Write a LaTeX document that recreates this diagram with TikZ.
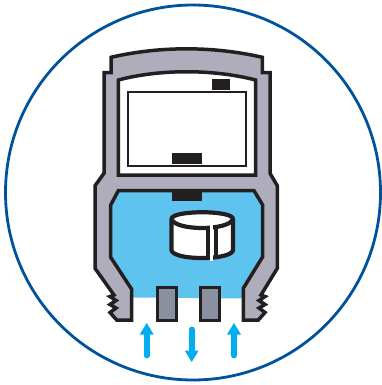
\documentclass[tikz,border=0pt]{standalone}
\definecolor{ringblue}{HTML}{00539B}
\definecolor{bodygray}{HTML}{ADADBB}
\definecolor{pingray}{HTML}{8A90A0}
\definecolor{chamber}{HTML}{5FC3F0}
\definecolor{flowblue}{HTML}{00AEEF}
\definecolor{ink}{HTML}{231F20}
\tikzset{
  blk/.style={draw=ink,line width=3.5pt,line join=miter},
  thinblk/.style={draw=ink,line width=1.9pt},
  bar/.style={fill=ink},
  pin/.style={draw=ink,fill=pingray,line width=3pt},
  cyl/.style={draw=ink,line width=4.2pt}
}
\newcommand{\arrowup}[1]{%
  \draw[flowblue,line width=5.8pt,line cap=round] (#1,355.5) -- (#1,333);
  \fill[flowblue] (#1-7,334.5) -- (#1,323) -- (#1+7,334.5) -- cycle;}
\begin{document}
\begin{tikzpicture}[x=1pt,y=-1pt]
\useasboundingbox (0,0) rectangle (382,385);
\draw[ringblue,line width=2.8pt] (193,192.5) circle (187.5);
% chamber
\fill[chamber] (118.3,190.7) -- (254,190.7) -- (262.7,205) -- (262.7,256.7) -- (243.3,288.3) -- (243.3,298.5) -- (131.7,297.5) -- (131.7,289.3) -- (110.7,257.3) -- (110.7,205) -- cycle;
% body
\path[blk,fill=bodygray]
  (111,57.3) .. controls (160,46) and (213,46) .. (262.3,57.3)
  -- (262.3,72.7) -- (270,72.7) -- (270,173.3) -- (277.3,185.7) -- (277.3,268.3)
  -- (261,295) -- (265,296.5) -- (259,300.5) -- (265,304.5) -- (259,308) -- (265,312.5) -- (258.3,320)
  -- (243.3,320) -- (243.3,288.3) -- (262.7,256.7) -- (262.7,205) -- (254,190.7) -- (118.3,190.7) -- (110.7,205) -- (110.7,257.3) -- (131.7,289.3) -- (131.7,320) -- (116.7,320)
  -- (110,312.5) -- (116,308) -- (110,304.5) -- (116,300.5) -- (110,296.5) -- (114,295)
  -- (95,268.3) -- (95,185.7) -- (104,173.3) -- (104,72.7) -- (111,72.7) -- cycle;
% window
\path[blk,fill=white] (118.3,80) .. controls (160,69) and (213,69) .. (255.7,80) -- (255.7,175) -- (118.3,175) -- cycle;
\draw[thinblk,fill=white] (127.7,91.7) rectangle (246,166);
\fill[bar] (211.7,79.3) rectangle (230.3,90);
\fill[bar] (171.7,153.3) rectangle (202.3,164);
\fill[bar] (171.7,190.7) rectangle (202.3,200.7);
% pins
\draw[pin] (157.5,287) rectangle (176.5,320.5);
\draw[pin] (200.5,287) rectangle (219.5,320.5);
% cylinder
\path[cyl,fill=white] (171.5,219) .. controls (171.5,210) and (233,210) .. (233,219) -- (233,250) .. controls (233,254) and (222,258) .. (202,258) .. controls (182,258) and (171.5,254) .. (171.5,250) -- cycle;
\draw[cyl] (171.5,219) .. controls (175,231) and (229,231) .. (233,219);
\draw[cyl] (208,226) -- (208,258);
\draw[cyl] (216,226) -- (216,257);
\fill[white] (210.2,224) rectangle (213.4,261);
% arrows
\arrowup{146.7}
\arrowup{234}
\draw[flowblue,line width=5.8pt,line cap=round] (191.7,329.5) -- (191.7,352);
\fill[flowblue] (184.7,350.5) -- (191.7,362) -- (198.7,350.5) -- cycle;
\end{tikzpicture}
\end{document}
